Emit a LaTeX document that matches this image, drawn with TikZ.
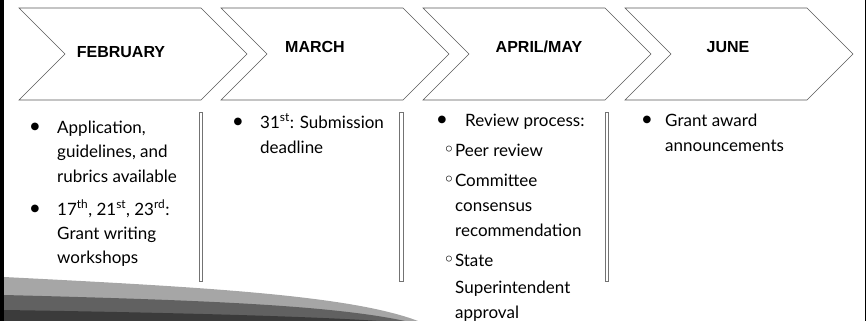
\documentclass[tikz,border=0pt]{standalone}
\usepackage{fontspec}
\setmainfont{Lato}
\newfontfamily\monthfont{Liberation Sans}
\newfontfamily\symfont{DejaVu Sans}
\usepackage{tikz}
\usetikzlibrary{positioning}
\tikzset{chevron/.style = {draw=black!65, line width=0.55pt, fill=white, line join=miter}}
\tikzset{monthlabel/.style = {inner sep=0pt, font=\monthfont\bfseries\fontsize{16}{16}\selectfont}}
\tikzset{itemtext/.style = {anchor=base west, inner sep=0pt, font=\fontsize{17}{17}\selectfont}}
\tikzset{dot/.style = {anchor=center, inner sep=0pt, font=\symfont\fontsize{10}{10}\selectfont}}
\tikzset{sepbar/.style = {draw=black!55, line width=0.6pt, fill=white}}

\begin{document}
\begin{tikzpicture}[x=1pt, y=-1pt]
                    \useasboundingbox (0,0) rectangle (867,321);

                    % Frame lines left and right
                    \fill [black] (0,0) rectangle (4,321);
                    \draw [line width=1.5pt] (865.5,0) -- (865.5,321);

                    % Swoosh at the bottom
                    \fill [black!35] (4,277) .. controls (200,287) and (350,295) .. (418,321) -- (4,321) -- cycle;
                    \fill [black!62] (4,295) .. controls (200,300) and (330,305) .. (405,321) -- (4,321) -- cycle;
                    \fill [black!77] (4,310) .. controls (200,313) and (320,317) .. (380,321) -- (4,321) -- cycle;

                    % Chevrons
                    \foreach \x in {19,221,423,625}
                        \draw [chevron] (\x,8) -- ++(182,0) -- ++(46,46) -- ++(-46,46) -- ++(-182,0) -- ++(46,-46) -- cycle;

                    % Month labels
                    \node [monthlabel] (feb) at (121,52) {FEBRUARY};
                    \node [monthlabel] (mar) at (315,47) {MARCH};
                    \node [monthlabel] (apr) at (539,47) {APRIL/MAY};
                    \node [monthlabel] (jun) at (728,47) {JUNE};

                    % Separator bars
                    \foreach \x in {199,399.5,605}
                        \draw [sepbar] (\x,112) rectangle ++(3.5,169);

                    % February items
                    \node [dot] (febdot1) at (35,127) {●};
                    \node [dot] (febdot2) at (35,209) {●};
                    \foreach \y/\t [count=\i] in {133/{Application,}, 157/{guidelines, and}, 182/{rubrics available},
                        215/{17\textsuperscript{th}, 21\textsuperscript{st}, 23\textsuperscript{rd}:}, 239/{Grant writing}, 263/{workshops}}
                        \node [itemtext] (febline\i) at (57,\y) {\t};

                    % March items
                    \node [dot] (mardot) at (238,122) {●};
                    \node [itemtext] (marline1) at (260,128) {31\textsuperscript{st}: Submission};
                    \node [itemtext] (marline2) at (260,153) {deadline};

                    % April/May items
                    \node [dot] (aprdot) at (442,120) {●};
                    \node [itemtext] (aprline1) at (465,126) {Review process:};
                    \foreach \y/\t [count=\i from 2] in {156/{{\symfont\fontsize{20}{20}\selectfont◦}Peer review}, 186/{{\symfont\fontsize{20}{20}\selectfont◦}Committee}, 266/{{\symfont\fontsize{20}{20}\selectfont◦}State}}
                        \node [itemtext] (aprline\i) at (443,\y) {\t};
                    \foreach \y/\t [count=\i from 5] in {211/consensus, 236/recommendation, 293/Superintendent, 318/approval}
                        \node [itemtext] (aprline\i) at (455,\y) {\t};

                    % June items
                    \node [dot] (jundot) at (647,120) {●};
                    \node [itemtext] (junline1) at (665,126) {Grant award};
                    \node [itemtext] (junline2) at (665,151) {announcements};
\end{tikzpicture}
\end{document}
